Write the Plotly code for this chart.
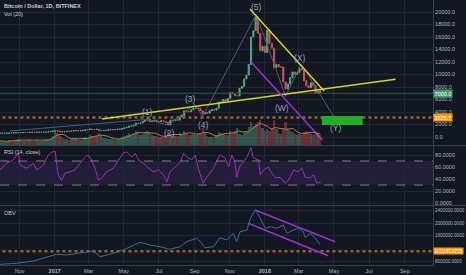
import pandas as pd
import plotly.graph_objects as go
from plotly.subplots import make_subplots

# ---------------- data ----------------
close = [605, 612, 612, 617, 640, 638, 657, 680, 700, 690, 705, 715, 712, 750, 740, 730,
         755, 760, 770, 780, 790, 830, 890, 975,
         1020, 900, 905, 820, 870, 920, 915, 960,
         1015, 1055, 1000, 1010, 1050, 1170, 1180,
         1270, 1200, 1190, 1245, 1020, 1030, 1040, 1070,
         1140, 1180, 1200, 1180, 1240, 1250, 1340,
         1460, 1550, 1750, 1750, 1880, 2200, 2150, 2250,
         2500, 2700, 2900, 2450, 2600, 2700, 2500,
         2450, 2600, 2500, 2350, 1930, 2700, 2600, 2750,
         2700, 3200, 3400, 4200, 4100, 4050, 4350, 4600,
         4600, 4600, 4200, 3700, 3900, 3800, 4200,
         4380, 4300, 4600, 5600, 5600, 6000, 5750, 6150,
         7100, 6950, 6600, 6600, 7800, 8100, 9300, 9900,
         11600, 16000, 17000, 19200, 16600, 13800, 14500,
         13500, 17100, 15000, 14200, 11100, 11600, 11200, 11200,
         8800, 7700, 8500, 9500, 10400, 10000, 10300,
         11000, 10700, 9000, 8200, 7900, 8700, 8200, 7000,
         7400, 7000]
volume = [4, 3, 4, 3, 5, 4, 4, 5, 6, 5, 4, 4, 5, 5, 4, 4, 5, 4, 4, 5, 5, 6, 7, 9,
          14, 12, 9, 8, 6, 6, 5, 6,
          6, 7, 6, 5, 6, 8, 7,
          10, 9, 8, 9, 12, 10, 7, 7,
          6, 6, 6, 5, 6, 6, 8,
          9, 10, 12, 10, 11, 14, 13, 10,
          11, 12, 14, 12, 10, 9, 9,
          8, 8, 8, 9, 13, 11, 9, 9,
          9, 12, 11, 14, 12, 10, 10, 11,
          10, 11, 12, 16, 12, 9, 8,
          8, 8, 10, 13, 12, 11, 10, 10,
          14, 12, 14, 16, 11, 10, 12, 14,
          17, 22, 18, 20, 22, 24, 16,
          14, 15, 14, 16, 24, 15, 12, 11,
          16, 22, 15, 14, 13, 11, 10,
          11, 10, 13, 14, 13, 11, 10, 11,
          12, 10]
start_date = "2016-09-28"

rsi_dates = ["2016-09-28", "2016-10-09", "2016-10-21", "2016-10-30", "2016-11-02", "2016-11-13",
             "2016-11-25", "2016-12-01", "2016-12-12", "2016-12-21", "2016-12-27", "2017-01-02",
             "2017-01-04", "2017-01-07", "2017-01-13", "2017-01-19", "2017-01-28", "2017-02-05",
             "2017-02-14", "2017-02-23", "2017-02-28", "2017-03-06", "2017-03-12", "2017-03-18",
             "2017-03-24", "2017-04-01", "2017-04-13", "2017-04-22", "2017-04-30", "2017-05-06",
             "2017-05-15", "2017-05-21", "2017-05-26", "2017-06-04", "2017-06-13", "2017-06-21",
             "2017-06-30", "2017-07-09", "2017-07-15", "2017-07-20", "2017-07-29", "2017-08-07",
             "2017-08-13", "2017-08-18", "2017-08-27", "2017-09-02", "2017-09-08", "2017-09-16",
             "2017-09-22", "2017-09-28", "2017-10-04", "2017-10-12", "2017-10-15", "2017-10-24",
             "2017-10-30", "2017-11-05", "2017-11-10", "2017-11-13", "2017-11-19", "2017-11-25",
             "2017-12-01", "2017-12-08", "2017-12-12", "2017-12-21", "2017-12-24", "2017-12-30",
             "2018-01-07", "2018-01-13", "2018-01-19", "2018-01-28", "2018-02-05", "2018-02-11",
             "2018-02-20", "2018-02-28", "2018-03-06", "2018-03-12", "2018-03-21", "2018-03-27",
             "2018-04-01", "2018-04-08"]
rsi_vals = [55, 66, 72, 83, 63, 58, 66, 55, 63, 80, 85, 86,
            68, 47, 38, 50, 52, 55, 66, 77, 80, 72, 58, 38,
            42, 52, 58, 72, 83, 85, 77, 83, 72, 66, 58, 52,
            55, 47, 35, 52, 60, 68, 83, 77, 72, 80, 55, 33,
            43, 50, 58, 75, 80, 75, 60, 80, 68, 43, 63, 68,
            77, 92, 75, 72, 47, 55, 60, 50, 42, 43, 33, 38,
            55, 52, 58, 43, 42, 47, 33, 35]

obv_dates = ["2016-09-28", "2016-10-27", "2016-11-25", "2016-12-24", "2017-01-04", "2017-01-22",
             "2017-02-20", "2017-03-09", "2017-03-21", "2017-04-07", "2017-04-30", "2017-05-18",
             "2017-05-29", "2017-06-16", "2017-07-03", "2017-07-20", "2017-08-07", "2017-08-18",
             "2017-09-05", "2017-09-11", "2017-09-19", "2017-10-04", "2017-10-15", "2017-10-27",
             "2017-11-07", "2017-11-13", "2017-11-19", "2017-12-01", "2017-12-07", "2017-12-15",
             "2017-12-21", "2017-12-27", "2018-01-02", "2018-01-10", "2018-01-22", "2018-02-02",
             "2018-02-08", "2018-02-20", "2018-02-28", "2018-03-09", "2018-03-12", "2018-03-21",
             "2018-03-29", "2018-04-07"]
obv_vals = [695e3, 727e3, 800e3, 937e3, 1012e3, 990e3, 1076e3, 1117e3, 937e3, 1012e3,
            1149e3, 1308e3, 1393e3, 1308e3, 1254e3, 1171e3, 1254e3, 1413e3, 1520e3, 1413e3,
            1222e3, 1254e3, 1540e3, 1467e3, 1679e3, 1413e3, 1730e3, 1784e3, 2155e3, 2419e3,
            2260e3, 2048e3, 1838e3, 1889e3, 1838e3, 1943e3, 1679e3, 1784e3, 1838e3, 1730e3,
            1540e3, 1679e3, 1540e3, 1308e3]

# Elliott wave drawing points
impulse_dates = ["2016-10-15", "2017-06-10", "2017-07-17", "2017-09-01", "2017-09-15", "2017-12-17"]
impulse_vals = [960, 2800, 1900, 5200, 3300, 19600]
correct_dates = ["2017-12-17", "2018-02-06", "2018-03-05", "2018-05-03"]
correct_vals = [19600, 6500, 11700, 2900]
wave_labels = ["(1)", "(2)", "(3)", "(4)", "(5)", "(W)", "(X)", "(Y)"]
wave_label_dates = ["2017-06-11", "2017-07-20", "2017-08-25", "2017-09-17", "2017-12-18",
                    "2018-01-31", "2018-03-03", "2018-05-04"]
wave_label_vals = [4000, 640, 6100, 1920, 20800, 4640, 12640, 1440]

# trend lines
rise_dates = ["2017-03-24", "2018-08-16"]
rise_vals = [2880, 9230]
fall_dates = ["2017-12-06", "2018-04-14"]
fall_vals = [20480, 7360]
purple_dates = ["2017-12-08", "2018-04-11"]
purple_vals = [12000, -480]
obv_up_dates = ["2017-12-15", "2018-05-03"]
obv_up_vals = [2419e3, 1413e3]
obv_lo_dates = ["2017-12-03", "2018-04-21"]
obv_lo_vals = [1997e3, 968e3]
box_dates = ["2018-04-10", "2018-06-20"]
box_vals = [1920, 3360]

support_level = 3125.7
last_price = 7000.0
obv_level = 1111197.6725

price_ticks = list(range(0, 20001, 2000))
rsi_ticks = [0, 20, 40, 60, 80]
obv_ticks = [800000, 1600000, 2000000, 2400000]
month_ticks = ["2016-11-01", "2017-01-01", "2017-03-01", "2017-05-01", "2017-07-01", "2017-09-01",
               "2017-11-01", "2018-01-01", "2018-03-01", "2018-05-01", "2018-07-01", "2018-09-01"]
month_text = ["Nov", "<b>2017</b>", "Mar", "May", "Jul", "Sep", "Nov", "<b>2018</b>", "Mar", "May",
              "Jul", "Sep"]

# ---------------- figure ----------------
BG = "#131722"
GRID = "#222634"
TXT = "#b2b5be"
UP = "#4fa97c"
DN = "#d9495a"
FONT = "Liberation Sans"
SMALL = 5.5
TINY = 4.6

dates = pd.date_range(start_date, periods=len(close), freq="4D")
opens = [close[0]] + close[:-1]
highs = [max(o, c) for o, c in zip(opens, close)]
lows = [min(o, c) for o, c in zip(opens, close)]
vol_colors = ["rgba(83,185,135,0.4)" if c >= o else "rgba(235,77,92,0.4)"
              for o, c in zip(opens, close)]
vol_ma = pd.Series(volume).rolling(5, min_periods=1).mean()

fig = make_subplots(rows=3, cols=1, shared_xaxes=True, vertical_spacing=0.004,
                    specs=[[{"secondary_y": True}], [{}], [{}]])

fig.add_trace(go.Candlestick(x=dates, open=opens, high=highs, low=lows, close=close,
                             increasing=dict(line=dict(color=UP, width=1), fillcolor=UP),
                             decreasing=dict(line=dict(color=DN, width=1), fillcolor=DN),
                             whiskerwidth=0, showlegend=False, hoverinfo="skip"),
              row=1, col=1, secondary_y=False)
fig.add_trace(go.Bar(x=dates, y=volume, marker=dict(color=vol_colors, line=dict(width=0)),
                     showlegend=False, hoverinfo="skip"), row=1, col=1, secondary_y=True)
fig.add_trace(go.Scatter(x=dates, y=vol_ma, mode="lines", line=dict(color="#c27a33", width=1),
                         showlegend=False, hoverinfo="skip"), row=1, col=1, secondary_y=True)

def pline(xs, ys, color, width=1, dash=None, row=1):
    fig.add_trace(go.Scatter(x=xs, y=ys, mode="lines",
                             line=dict(color=color, width=width, dash=dash),
                             showlegend=False, hoverinfo="skip"), row=row, col=1)

x_full = ["2016-09-01", "2018-11-30"]
pline(x_full, [last_price, last_price], "#2a5a4a", 1)
pline(x_full, [support_level, support_level], "#9a6424", 2.5, "dot")
pline(impulse_dates, impulse_vals, "#3b5f8c", 1)
pline(correct_dates, correct_vals, "#3e6657", 1)
pline(rise_dates, rise_vals, "#d8d41e", 1.5)
pline(fall_dates, fall_vals, "#d8d41e", 1.5)
pline(purple_dates, purple_vals, "#9b2fd6", 1.5)

# green target box
fig.add_shape(type="rect", x0=box_dates[0], x1=box_dates[1], y0=box_vals[0], y1=box_vals[1],
              xref="x", yref="y", fillcolor="#1fae26", line=dict(width=0), layer="above")

# RSI pane
fig.add_shape(type="rect", x0=0, x1=1, y0=30, y1=70, xref="x2 domain", yref="y3",
              fillcolor="rgba(126,60,200,0.16)", line=dict(width=0), layer="below")
for lvl in (30, 70):
    fig.add_shape(type="line", x0=0, x1=1, y0=lvl, y1=lvl, xref="x2 domain", yref="y3",
                  line=dict(color="#7d7f8c", width=1, dash="dash"))
pline(rsi_dates, rsi_vals, "#9a2fb5", 1, row=2)

# OBV pane
pline(x_full, [obv_level, obv_level], "#9a6424", 2.5, "dot", row=3)
pline(obv_dates, obv_vals, "#3a6aa0", 1, row=3)
pline(obv_up_dates, obv_up_vals, "#9b2fd6", 1.5, row=3)
pline(obv_lo_dates, obv_lo_vals, "#9b2fd6", 1.5, row=3)

# wave labels
for t, d, v in zip(wave_labels, wave_label_dates, wave_label_vals):
    fig.add_annotation(x=d, y=v, xref="x", yref="y", text=t, showarrow=False,
                       font=dict(family=FONT, size=8.5, color="#8ea6c6"))

# price tags on the right axis
def tag(text, y, yref, bg, size=SMALL, fg="#ffffff"):
    fig.add_annotation(x=1, y=y, xref="paper", yref=yref, text=text, showarrow=False,
                       xanchor="left", yanchor="middle", xshift=0, bgcolor=bg,
                       borderpad=0.5, font=dict(family=FONT, size=size, color=fg))

tag("7000.0", last_price, "y", "#3f9d6a")
tag("3125.7", support_level, "y", "#ff9800")
tag("1111197.6725", obv_level, "y4", "#ff9800", size=TINY)

# pane titles
PH = 265.0
PW = 433.0
def fy(ypx):
    return 1 - ypx / PH

def ptxt(text, xp, yp, bold=False, color="#c9ccd6"):
    fig.add_annotation(x=xp / PW, y=fy(yp), xref="paper", yref="paper",
                       text=("<b>%s</b>" % text) if bold else text, showarrow=False,
                       xanchor="left", yanchor="middle",
                       font=dict(family=FONT, size=SMALL, color=color))

ptxt("Bitcoin / Dollar, 1D, BITFINEX", 2, 6, bold=True)
ptxt("Vol (20)", 2, 14)
ptxt("RSI (14, close)", 2, 152)
ptxt("OBV", 2, 213)

# pane separators
for yp in (145.5, 205.5):
    fig.add_shape(type="line", x0=0, x1=1.08, y0=fy(yp), y1=fy(yp),
                  xref="paper", yref="paper", line=dict(color="#3a3e4a", width=1))

xcommon = dict(range=["2016-09-28", "2018-10-20"], tickvals=month_ticks, ticktext=month_text,
               showgrid=True, gridcolor=GRID, gridwidth=1, zeroline=False, domain=[0, 1],
               rangeslider=dict(visible=False), ticks="", showline=False, automargin=False,
               tickfont=dict(family=FONT, size=SMALL, color=TXT))
fig.update_xaxes(**xcommon)
fig.update_xaxes(showticklabels=False, row=1, col=1)
fig.update_xaxes(showticklabels=False, row=2, col=1)
fig.update_xaxes(showticklabels=True, showline=True, linecolor="#3a3e4a", row=3, col=1)

ycommon = dict(side="right", showgrid=True, gridcolor=GRID, zeroline=False, ticks="",
               showline=True, linecolor="#3a3e4a", automargin=False)

fig.update_layout(
    width=466, height=275, margin=dict(l=0, r=33, t=0, b=10),
    paper_bgcolor=BG, plot_bgcolor=BG, showlegend=False, bargap=0,
    font=dict(family=FONT, color=TXT),
    yaxis=dict(domain=[fy(145), 1], range=[-1280, 21920], tickvals=price_ticks,
               tickformat=".1f", tickfont=dict(family=FONT, size=SMALL, color=TXT), **ycommon),
    yaxis2=dict(domain=[fy(145), 1], range=[0, 140], overlaying="y", visible=False,
                showgrid=False, automargin=False),
    yaxis3=dict(domain=[fy(205), fy(146)], range=[-3.3, 95], tickvals=rsi_ticks,
                tickformat=".4f", tickfont=dict(family=FONT, size=SMALL, color=TXT), **ycommon),
    yaxis4=dict(domain=[0, fy(206)], range=[673000, 2546000], tickvals=obv_ticks,
                tickformat=".4f", tickfont=dict(family=FONT, size=TINY, color=TXT), **ycommon),
)

fig.write_html("out.html")
